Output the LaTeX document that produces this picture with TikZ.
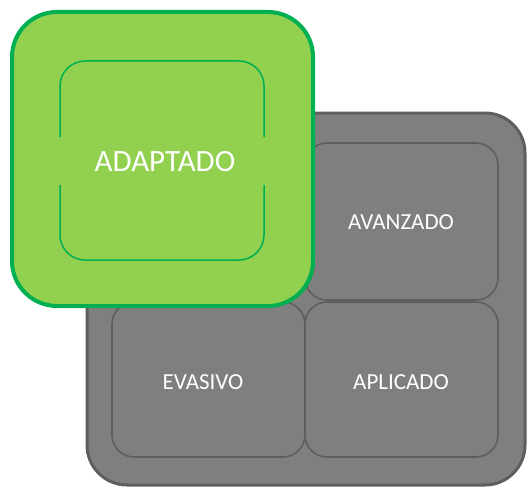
\documentclass[tikz,border=0pt]{standalone}
\usepackage{fontspec}
\setmainfont{Carlito}
\definecolor{gfill}{HTML}{7F7F7F}
\definecolor{gline}{HTML}{5E5E5E}
\definecolor{lfill}{HTML}{92D050}
\definecolor{lline}{HTML}{00B050}
\begin{document}
\begin{tikzpicture}[x=1pt,y=-1pt,
  cellbox/.style={fill=gfill,draw=gline,line width=1.6pt,rounded corners=22pt},
  celltext/.style={text=white,font=\fontsize{23}{27}\selectfont},
  frameline/.style={draw=lline,line width=1.5pt,rounded corners=25pt}]
\useasboundingbox (0,0) rectangle (527,487);
% outer grey panel
\node[fill=gfill,draw=gline,line width=3pt,rounded corners=40pt,minimum width=438pt,minimum height=372pt,inner sep=0pt] (outer) at (306,299) {};
% cells
\node[cellbox,minimum width=193pt,minimum height=157pt,inner sep=0pt] (c11) at (208.5,221.5) {};
\node[cellbox,minimum width=193pt,minimum height=157pt,inner sep=0pt] (c12) at (401.5,221.5) {};
\node[cellbox,minimum width=193pt,minimum height=155pt,inner sep=0pt] (c21) at (208.5,379.5) {};
\node[cellbox,minimum width=193pt,minimum height=155pt,inner sep=0pt] (c22) at (401.5,379.5) {};
\node[celltext] (tav) at (401,222) {AVANZADO};
\node[celltext] (tev) at (203,382) {EVASIVO};
\node[celltext] (tap) at (401,382) {APLICADO};
% green box
\node[fill=lfill,draw=lline,line width=4pt,rounded corners=45pt,minimum width=301pt,minimum height=294pt,inner sep=0pt] (green) at (162.5,159) {};
\draw[frameline] (60,137) -- (60,61) -- (264,61) -- (264,137);
\draw[frameline] (60,185) -- (60,260) -- (264,260) -- (264,185);
\node[text=white,font=\fontsize{31}{35}\selectfont] (tad) at (165,162) {ADAPTADO};
\end{tikzpicture}
\end{document}
